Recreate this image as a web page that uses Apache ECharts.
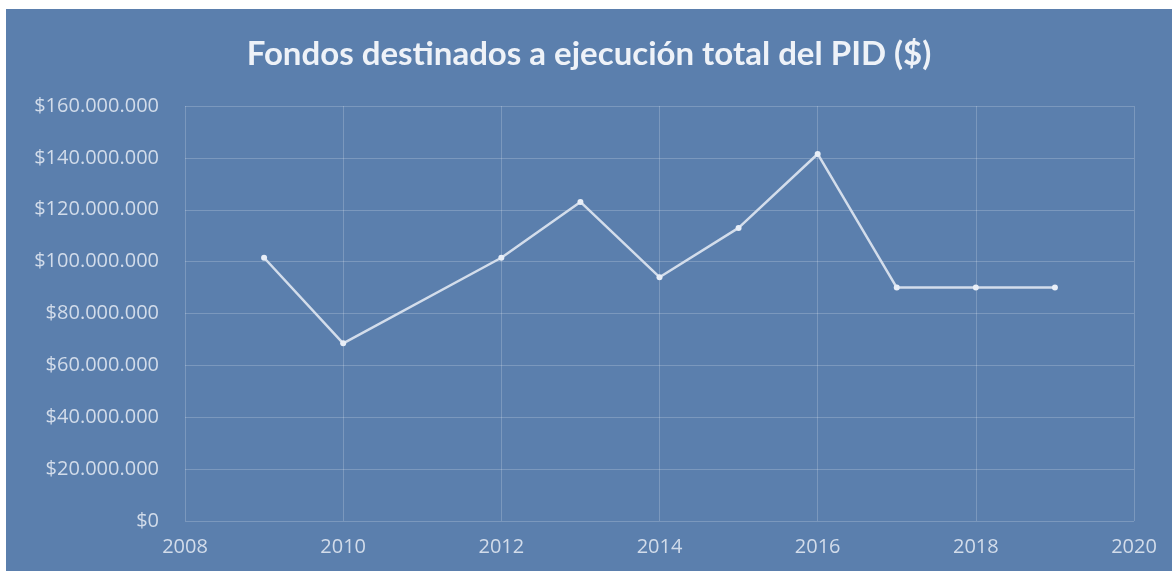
<!DOCTYPE html>
<head>
    <meta charset="utf-8">
    <title>ECharts</title>
    <style>
        body { margin: 0; background: #fff; }
        #main { position: absolute; left: 6px; top: 9px; width: 1166px; height: 562px; background: #5b7fad; }
    </style>
</head>
<body>
<div id="main"></div>
<script src="https://cdn.jsdelivr.net/npm/echarts@6/dist/echarts.min.js"></script>
<script type="text/javascript">
    // datos
    var years = [2009, 2010, 2012, 2013, 2014, 2015, 2016, 2017, 2018, 2019];
    var fondos = [101500000, 68500000, 101500000, 123000000, 94000000, 113000000, 141500000, 90000000, 90000000, 90000000];
    var yTicks = [0, 20000000, 40000000, 60000000, 80000000, 100000000, 120000000, 140000000, 160000000];

    function pesos(v) {
        return '$' + String(v).replace(/\B(?=(\d{3})+(?!\d))/g, '.');
    }

    var myChart = echarts.init(document.getElementById('main'));
    myChart.setOption({
        title: {
            text: 'Fondos destinados a ejecución total del PID ($)',
            left: 'center',
            top: 24,
            textStyle: { color: '#eef2f8', fontSize: 33, fontWeight: 'bold', fontFamily: 'Lato' }
        },
        grid: { left: 179, right: 38, top: 97, bottom: 50 },
        xAxis: {
            type: 'value',
            min: 2008, max: 2020, interval: 2,
            axisLine: { show: false },
            axisTick: { show: false },
            axisLabel: { color: '#d2dcea', fontSize: 20, fontFamily: 'Open Sans', margin: 16, formatter: function (v) { return String(v); } },
            splitLine: { lineStyle: { color: 'rgba(255,255,255,0.2)', width: 1 } }
        },
        yAxis: {
            type: 'value',
            min: yTicks[0], max: yTicks[yTicks.length - 1], interval: 20000000,
            axisLine: { show: false },
            axisTick: { show: false },
            axisLabel: { color: '#d2dcea', fontSize: 20, fontFamily: 'Open Sans', margin: 26, formatter: pesos },
            splitLine: { lineStyle: { color: 'rgba(255,255,255,0.2)', width: 1 } }
        },
        series: [{
            type: 'line',
            data: years.map(function (y, i) { return [y, fondos[i]]; }),
            symbol: 'circle',
            symbolSize: 6,
            lineStyle: { color: '#d3ddeb', width: 2.5 },
            itemStyle: { color: '#e8eef7' }
        }]
    });
</script>
</body>
